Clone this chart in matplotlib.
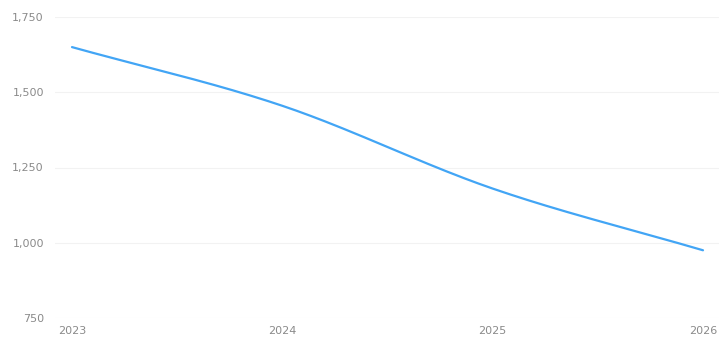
import numpy as np
import matplotlib
matplotlib.use("Agg")
import matplotlib.pyplot as plt
from matplotlib.ticker import FuncFormatter

# data
years = [2023, 2024, 2025, 2026]
values = [1650, 1455, 1180, 975]
y_ticks = [750, 1000, 1250, 1500, 1750]


def smooth_curve(x, y, n=60):
    # cubic hermite with catmull-rom style tangents, just for a smooth line
    x = np.asarray(x, float)
    y = np.asarray(y, float)
    m = np.gradient(y, x)
    xs, ys = [], []
    for i in range(len(x) - 1):
        h = x[i + 1] - x[i]
        t = np.linspace(0, 1, n)
        h00 = 2 * t**3 - 3 * t**2 + 1
        h10 = t**3 - 2 * t**2 + t
        h01 = -2 * t**3 + 3 * t**2
        h11 = t**3 - t**2
        xs.append(x[i] + t * h)
        ys.append(h00 * y[i] + h10 * h * m[i] + h01 * y[i + 1] + h11 * h * m[i + 1])
    return np.concatenate(xs), np.concatenate(ys)


fig = plt.figure(figsize=(7.19, 3.5), dpi=100)
ax = fig.add_axes([55 / 719, 32 / 350, 664 / 719, 301 / 350])

sx, sy = smooth_curve(years, values)
ax.plot(sx, sy, color="#42a5f5", lw=1.6, solid_capstyle="round", clip_on=False)

ax.set_xlim(2023 - 17 / 210.3, 2026 + 16 / 210.3)
ax.set_ylim(750, 1750)
ax.set_yticks(y_ticks)
ax.set_xticks(years)
ax.yaxis.set_major_formatter(FuncFormatter(lambda v, p: f"{int(v):,}"))

ax.grid(axis="y", color="#f2f2f2", lw=0.8)
ax.set_axisbelow(True)
for s in ax.spines.values():
    s.set_visible(False)
ax.tick_params(length=0, colors="#8a8a8a", labelsize=8)
ax.tick_params(axis="y", pad=8)
ax.tick_params(axis="x", pad=6)

fig.savefig("out.png", dpi=100)
